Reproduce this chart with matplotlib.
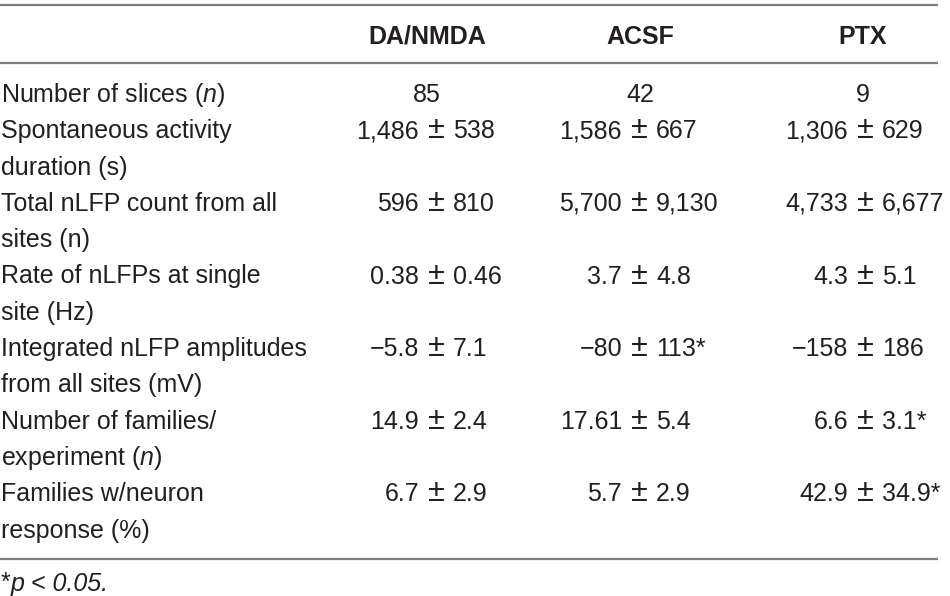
import matplotlib
matplotlib.use('Agg')
import matplotlib.pyplot as plt

plt.rcParams['font.family'] = ['Liberation Sans', 'DejaVu Sans']
plt.rcParams['mathtext.fontset'] = 'custom'
plt.rcParams['mathtext.rm'] = 'Liberation Sans'
plt.rcParams['mathtext.it'] = 'Liberation Sans:italic'

groups = ['DA/NMDA', 'ACSF', 'PTX']
row_labels = [
    'Number of slices ($n$)',
    'Spontaneous activity\nduration (s)',
    'Total nLFP count from all\nsites (n)',
    'Rate of nLFPs at single\nsite (Hz)',
    'Integrated nLFP amplitudes\nfrom all sites (mV)',
    'Number of families/\nexperiment $(n)$',
    'Families w/neuron\nresponse (%)',
]
da_mean = ['85', '1,486', '596', '0.38', '\u22125.8', '14.9', '6.7']
da_sd = [None, '538', '810', '0.46', '7.1', '2.4', '2.9']
acsf_mean = ['42', '1,586', '5,700', '3.7', '\u221280', '17.61', '5.7']
acsf_sd = [None, '667', '9,130', '4.8', '113*', '5.4', '2.9']
ptx_mean = ['9', '1,306', '4,733', '4.3', '\u2212158', '6.6', '42.9']
ptx_sd = [None, '629', '6,677', '5.1', '186', '3.1*', '34.9*']
footnote = 'p < 0.05.'

W, H = 950, 596
fig = plt.figure(figsize=(W / 100, H / 100), dpi=100)
ax = fig.add_axes([0, 0, 1, 1])
ax.set_xlim(0, W)
ax.set_ylim(H, 0)
ax.axis('off')

txt = '#231f20'
rule = '#7f7f7f'
fs = 18
head_x = [427, 640, 863]
pm_x = [436, 639, 865]
gap = 17
line_h = 36.3
y0 = 93
half_cap = 9

for y in [5, 63, 559]:
    ax.plot([0, 938], [y, y], color=rule, lw=1.6, solid_capstyle='butt')

for g, x in zip(groups, head_x):
    ax.text(x, 35 + half_cap, g, ha='center', va='baseline', fontsize=fs,
            fontweight='bold', color=txt)

cols = [(da_mean, da_sd), (acsf_mean, acsf_sd), (ptx_mean, ptx_sd)]
k = 0
for i, lab in enumerate(row_labels):
    yb = y0 + k * line_h + half_cap
    for j, line in enumerate(lab.split('\n')):
        ax.text(1, yb + j * line_h, line, ha='left', va='baseline', fontsize=fs, color=txt)
    for (means, sds), hx, x in zip(cols, head_x, pm_x):
        if sds[i] is None:
            ax.text(hx, yb, means[i], ha='center', va='baseline', fontsize=fs, color=txt)
        else:
            ax.text(x, yb, '\u00b1', ha='center', va='baseline', fontsize=22, color=txt)
            ax.text(x - gap, yb, means[i], ha='right', va='baseline', fontsize=fs, color=txt)
            ax.text(x + gap, yb, sds[i], ha='left', va='baseline', fontsize=fs, color=txt)
    k += len(lab.split('\n'))

ax.text(1, 590, '*', ha='left', va='baseline', fontsize=fs, color=txt)
ax.text(11, 591, footnote, ha='left', va='baseline', fontsize=fs, color=txt, style='italic')

fig.savefig('out.png', dpi=100, facecolor='white')
